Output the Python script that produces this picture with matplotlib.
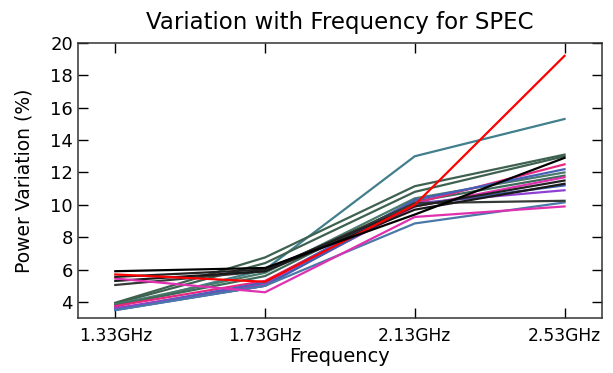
import matplotlib
matplotlib.use("Agg")
import matplotlib.pyplot as plt

# frequencies on the x axis
freqs = ["1.33GHz", "1.73GHz", "2.13GHz", "2.53GHz"]

# power variation (%) per benchmark
bench_vals = [
    [3.7, 6.0, 13.0, 15.3],
    [3.95, 6.75, 11.15, 13.1],
    [3.9, 6.4, 10.8, 13.0],
    [3.85, 5.8, 10.4, 12.0],
    [3.8, 5.6, 10.2, 11.8],
    [3.75, 5.3, 10.1, 12.5],
    [3.6, 5.1, 9.9, 11.7],
    [3.55, 5.2, 10.3, 12.2],
    [3.6, 5.0, 10.1, 10.9],
    [3.5, 5.0, 10.0, 11.2],
    [3.5, 5.0, 8.85, 10.15],
    [5.05, 5.9, 10.1, 10.25],
    [5.3, 5.9, 9.7, 11.3],
    [5.45, 4.6, 9.25, 9.9],
    [5.55, 6.0, 9.9, 11.5],
    [5.7, 5.25, 10.0, 19.2],
    [5.9, 6.1, 9.4, 12.9],
]
bench_colors = [
    "#417f8c", "#3e6150", "#3e6150", "#4a7a6a", "#3e6a5a",
    "#e8287e", "#e030b0", "#4860b8", "#9040d0", "#4060b0",
    "#4a78a8", "#363a36", "#1a1a1a", "#e030b0", "#222222",
    "#ff0000", "#000000",
]

fig = plt.figure(figsize=(6.13, 3.73), dpi=100)
ax = fig.add_axes([0.127, 0.147, 0.855, 0.738])

x = list(range(len(freqs)))
for vals, c in zip(bench_vals, bench_colors):
    ax.plot(x, vals, color=c, linewidth=1.6)

ax.set_xlim(-0.25, 3.25)
ax.set_ylim(3, 20)
ax.set_yticks([4, 6, 8, 10, 12, 14, 16, 18, 20])
ax.set_xticks(x)
ax.set_xticklabels(freqs)
ax.tick_params(direction="in", top=True, right=True, length=7, width=1,
               labelsize=13)
ax.tick_params(axis="x", labelsize=12.3, pad=6)
for s in ax.spines.values():
    s.set_linewidth(1.1)
    s.set_color("#333333")

ax.set_xlabel("Frequency", fontsize=14, labelpad=2)
ax.set_ylabel("Power Variation (%)", fontsize=13.5, labelpad=12)
ax.set_title("Variation with Frequency for SPEC", fontsize=16.5, pad=10)

fig.savefig("out.png", dpi=100)
